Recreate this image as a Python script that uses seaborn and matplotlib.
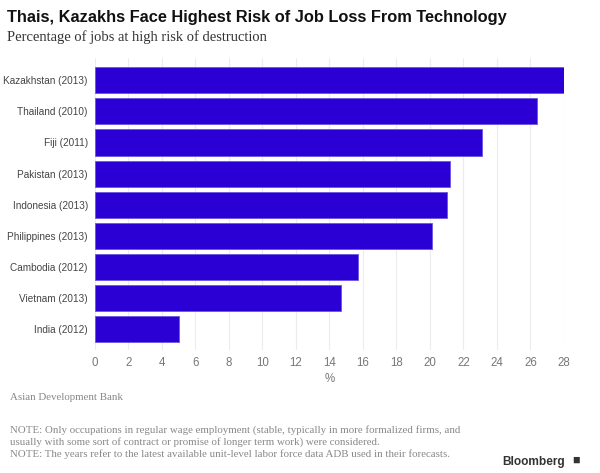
import matplotlib
matplotlib.use("Agg")
import matplotlib.pyplot as plt
import seaborn as sns
import pandas as pd

# =========================================================
# DATA
# =========================================================

countries = [
    "Kazakhstan (2013)",
    "Thailand (2010)",
    "Fiji (2011)",
    "Pakistan (2013)",
    "Indonesia (2013)",
    "Philippines (2013)",
    "Cambodia (2012)",
    "Vietnam (2013)",
    "India (2012)",
]

risk_pct = [28.0, 26.4, 23.1, 21.2, 21.0, 20.1, 15.7, 14.7, 5.0]

x_ticks = list(range(0, 29, 2))

df = pd.DataFrame({"country": countries, "risk": risk_pct})

# =========================================================
# PLOT
# =========================================================

sns.set_theme(style="white")
plt.rcParams["font.family"] = ["Liberation Sans", "DejaVu Sans"]

fig = plt.figure(figsize=(6, 4.73), dpi=100)
ax = fig.add_axes([0.158, 0.26, 0.782, 0.617])

sns.barplot(
    data=df,
    x="risk",
    y="country",
    color="#2a00d4",
    saturation=1,
    width=0.84,
    edgecolor="#6a55e0",
    linewidth=0.6,
    ax=ax,
)

ax.set_xlim(0, 28)
ax.set_ylim(8.67, -0.71)
ax.set_xticks(x_ticks)
ax.set_xticklabels([str(t) for t in x_ticks])
ax.grid(axis="x", color="#ececec", linewidth=0.8)
ax.set_axisbelow(True)
for s in ax.spines.values():
    s.set_visible(False)

ax.tick_params(axis="x", length=0, pad=5, labelsize=8.3, labelcolor="#777777")
ax.tick_params(axis="y", length=0, pad=5, labelsize=7.2, labelcolor="#444444")
ax.set_ylabel("")
ax.set_xlabel("%", fontsize=8.3, color="#777777", labelpad=3)

# =========================================================
# TEXTS
# =========================================================

fig.text(0.012, 0.962, "Thais, Kazakhs Face Highest Risk of Job Loss From Technology",
         fontsize=11.8, fontweight="bold", color="#111111", va="center")
fig.text(0.012, 0.921, "Percentage of jobs at high risk of destruction",
         fontsize=10.5, color="#333333", va="center",
         family=["Liberation Serif", "DejaVu Serif"])

serif = ["Liberation Serif", "DejaVu Serif"]
fig.text(0.017, 0.160, "Asian Development Bank",
         fontsize=7.8, color="#888888", va="center", family=serif)
fig.text(0.017, 0.066,
         "NOTE: Only occupations in regular wage employment (stable, typically in more formalized firms, and\n"
         "usually with some sort of contract or promise of longer term work) were considered.\n"
         "NOTE: The years refer to the latest available unit-level labor force data ADB used in their forecasts.",
         fontsize=7.85, color="#888888", va="center", family=serif, linespacing=1.3)
fig.text(0.942, 0.024, "Bloomberg",
         fontsize=8.6, fontweight="bold", color="#333333", ha="right", va="center")
fig.text(0.96, 0.026, "\u25a0", fontsize=9, color="#333333", ha="center", va="center")

fig.savefig("out.png", dpi=100)
